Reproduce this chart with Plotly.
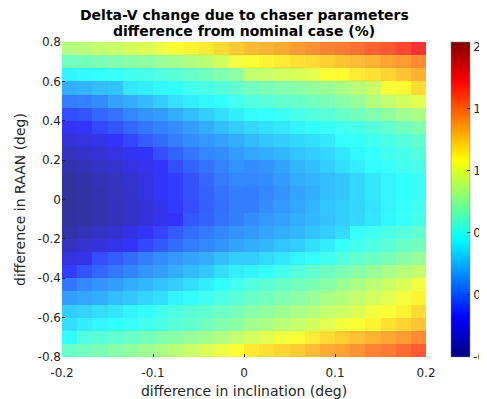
import plotly.graph_objects as go

# grid edges (pcolor-like): 24 x 24 cells
n_x = 24
n_y = 24
x_min, x_max = -0.2, 0.2
y_min, y_max = -0.8, 0.8

# cell values (%), rows listed from top (RAAN +0.8) to bottom (RAAN -0.8),
# columns from inclination -0.2 to +0.2
row00 = [0.85, 0.87, 0.9, 0.92, 0.95, 0.98, 1.02, 1.08, 1.12, 1.15, 1.2, 1.25, 1.3, 1.32, 1.35, 1.4, 1.43, 1.47, 1.5, 1.53, 1.57, 1.6, 1.65, 1.75]
row01 = [0.65, 0.66, 0.68, 0.7, 0.72, 0.74, 0.77, 0.8, 0.84, 0.88, 0.95, 1.05, 1.08, 1.12, 1.15, 1.18, 1.2, 1.23, 1.27, 1.3, 1.33, 1.37, 1.4, 1.45]
row02 = [0.42, 0.44, 0.46, 0.47, 0.5, 0.52, 0.55, 0.58, 0.62, 0.66, 0.7, 0.74, 0.9, 0.92, 0.95, 0.97, 1.0, 1.08, 1.1, 1.15, 1.18, 1.22, 1.27, 1.33]
row03 = [0.2, 0.22, 0.25, 0.27, 0.38, 0.4, 0.43, 0.45, 0.5, 0.53, 0.56, 0.6, 0.65, 0.68, 0.7, 0.72, 0.75, 0.78, 0.82, 0.87, 0.93, 1.08, 1.1, 1.2]
row04 = [0.05, 0.07, 0.1, 0.17, 0.2, 0.24, 0.3, 0.36, 0.4, 0.43, 0.46, 0.5, 0.55, 0.57, 0.6, 0.62, 0.65, 0.68, 0.72, 0.76, 0.85, 0.9, 0.95, 1.0]
row05 = [-0.1, -0.08, -0.02, 0.02, 0.08, 0.12, 0.15, 0.2, 0.25, 0.3, 0.35, 0.4, 0.44, 0.46, 0.48, 0.52, 0.55, 0.58, 0.62, 0.66, 0.7, 0.75, 0.8, 0.83]
row06 = [-0.22, -0.2, -0.12, -0.08, -0.02, 0.03, 0.07, 0.1, 0.15, 0.2, 0.25, 0.3, 0.33, 0.36, 0.38, 0.42, 0.45, 0.47, 0.5, 0.52, 0.56, 0.6, 0.65, 0.7]
row07 = [-0.3, -0.28, -0.25, -0.2, -0.12, -0.05, 0.0, 0.05, 0.1, 0.13, 0.16, 0.2, 0.24, 0.28, 0.3, 0.33, 0.35, 0.38, 0.45, 0.46, 0.5, 0.53, 0.56, 0.6]
row08 = [-0.38, -0.35, -0.32, -0.27, -0.22, -0.18, -0.1, -0.03, 0.03, 0.08, 0.1, 0.15, 0.18, 0.2, 0.23, 0.27, 0.3, 0.33, 0.38, 0.43, 0.46, 0.5, 0.52, 0.56]
row09 = [-0.43, -0.4, -0.37, -0.33, -0.28, -0.24, -0.18, -0.1, -0.03, 0.02, 0.07, 0.12, 0.1, 0.12, 0.16, 0.22, 0.25, 0.3, 0.35, 0.4, 0.44, 0.47, 0.5, 0.52]
row10 = [-0.48, -0.45, -0.42, -0.38, -0.33, -0.28, -0.2, -0.15, -0.08, -0.02, 0.04, 0.08, 0.08, 0.1, 0.14, 0.2, 0.22, 0.25, 0.28, 0.33, 0.38, 0.42, 0.45, 0.48]
row11 = [-0.49, -0.46, -0.43, -0.39, -0.34, -0.28, -0.2, -0.15, -0.08, -0.03, 0.02, 0.06, 0.05, 0.08, 0.12, 0.17, 0.2, 0.25, 0.28, 0.33, 0.38, 0.42, 0.45, 0.48]
row12 = [-0.49, -0.47, -0.43, -0.4, -0.36, -0.31, -0.24, -0.16, -0.1, -0.04, 0.01, 0.05, 0.05, 0.1, 0.14, 0.18, 0.22, 0.28, 0.3, 0.33, 0.37, 0.42, 0.46, 0.5]
row13 = [-0.48, -0.46, -0.43, -0.4, -0.36, -0.3, -0.24, -0.2, -0.07, -0.03, 0.02, 0.06, 0.1, 0.13, 0.16, 0.2, 0.23, 0.27, 0.3, 0.33, 0.38, 0.43, 0.47, 0.52]
row14 = [-0.45, -0.4, -0.37, -0.33, -0.27, -0.2, -0.13, -0.06, 0.0, 0.04, 0.08, 0.12, 0.14, 0.17, 0.2, 0.23, 0.27, 0.3, 0.34, 0.47, 0.5, 0.53, 0.56, 0.6]
row15 = [-0.38, -0.33, -0.29, -0.24, -0.2, -0.12, -0.06, 0.0, 0.05, 0.08, 0.12, 0.17, 0.2, 0.23, 0.27, 0.3, 0.35, 0.4, 0.47, 0.5, 0.54, 0.58, 0.62, 0.66]
row16 = [-0.28, -0.25, -0.1, -0.05, 0.0, 0.05, 0.1, 0.13, 0.17, 0.2, 0.25, 0.3, 0.3, 0.34, 0.38, 0.42, 0.46, 0.5, 0.55, 0.6, 0.63, 0.67, 0.72, 0.77]
row17 = [-0.15, -0.08, -0.02, 0.03, 0.07, 0.12, 0.15, 0.2, 0.24, 0.28, 0.35, 0.4, 0.42, 0.46, 0.5, 0.55, 0.6, 0.64, 0.68, 0.72, 0.77, 0.82, 0.86, 0.9]
row18 = [0.03, 0.08, 0.12, 0.15, 0.2, 0.23, 0.27, 0.3, 0.35, 0.4, 0.45, 0.5, 0.55, 0.58, 0.62, 0.65, 0.68, 0.72, 0.78, 0.83, 0.88, 0.93, 0.97, 1.05]
row19 = [0.15, 0.18, 0.2, 0.25, 0.28, 0.32, 0.35, 0.42, 0.46, 0.5, 0.54, 0.58, 0.62, 0.65, 0.7, 0.73, 0.77, 0.82, 0.86, 0.9, 0.95, 1.0, 1.05, 1.12]
row20 = [0.3, 0.32, 0.35, 0.38, 0.42, 0.46, 0.5, 0.54, 0.58, 0.6, 0.63, 0.67, 0.72, 0.75, 0.78, 0.82, 0.85, 0.9, 0.93, 0.98, 1.05, 1.08, 1.12, 1.2]
row21 = [0.35, 0.4, 0.43, 0.45, 0.47, 0.5, 0.53, 0.57, 0.6, 0.65, 0.7, 0.73, 0.8, 0.83, 0.87, 0.9, 0.95, 1.0, 1.05, 1.08, 1.12, 1.18, 1.22, 1.27]
row22 = [0.45, 0.55, 0.58, 0.6, 0.63, 0.66, 0.7, 0.73, 0.77, 0.8, 0.85, 0.9, 0.95, 1.0, 1.05, 1.08, 1.15, 1.2, 1.24, 1.28, 1.32, 1.36, 1.4, 1.45]
row23 = [0.62, 0.65, 0.68, 0.72, 0.75, 0.78, 0.82, 0.87, 0.92, 0.97, 1.03, 1.08, 1.15, 1.18, 1.22, 1.25, 1.3, 1.35, 1.38, 1.42, 1.47, 1.5, 1.55, 1.6]

rows_top_to_bottom = [row00, row01, row02, row03, row04, row05, row06, row07,
                      row08, row09, row10, row11, row12, row13, row14, row15,
                      row16, row17, row18, row19, row20, row21, row22, row23]

x_ticks = [-0.2, -0.1, 0, 0.1, 0.2]
x_ticktext = ["-0.2", "-0.1", "0", "0.1", "0.2"]
y_ticks = [-0.8, -0.6, -0.4, -0.2, 0, 0.2, 0.4, 0.6, 0.8]
y_ticktext = ["-0.8", "-0.6", "-0.4", "-0.2", "0", "0.2", "0.4", "0.6", "0.8"]
c_ticks = [-0.5, 0, 0.5, 1, 1.5, 2]
c_ticktext = ["-0.5", "0", "0.5", "1", "1.5", "2"]
c_min, c_max = -0.5, 2.04

title_line1 = "Delta-V change due to chaser parameters"
title_line2 = "difference from nominal case (%)"

# cell centres derived from the grid edges
dx = (x_max - x_min) / n_x
dy = (y_max - y_min) / n_y
x_centres = [x_min + (i + 0.5) * dx for i in range(n_x)]
y_centres = [y_max - (j + 0.5) * dy for j in range(n_y)]  # top to bottom

jet = [
    [0.0, "rgb(0,0,128)"],
    [0.125, "rgb(0,0,255)"],
    [0.375, "rgb(0,255,255)"],
    [0.625, "rgb(255,255,0)"],
    [0.875, "rgb(255,0,0)"],
    [1.0, "rgb(128,0,0)"],
]

font_main = "DejaVu Sans, Arial, sans-serif"
# page body has an 8px default margin: figure sized/offset to compensate
OFF = 8
W, H = 487 - OFF, 399 - OFF
L, R, T, B = 62 - OFF, 426 - OFF, 42 - OFF, 357 - OFF
CB_LEFT = 451 - OFF

fig = go.Figure(
    go.Heatmap(
        x=x_centres,
        y=y_centres,
        z=rows_top_to_bottom,
        colorscale=jet,
        zmin=c_min,
        zmax=c_max,
        opacity=0.8,
        colorbar=dict(
            x=(CB_LEFT - L) / (R - L),
            xanchor="left",
            xpad=0,
            ypad=0,
            y=0.5,
            yanchor="middle",
            len=1,
            lenmode="fraction",
            thickness=19,
            thicknessmode="pixels",
            outlinecolor="#808080",
            outlinewidth=0.5,
            tickvals=c_ticks,
            ticktext=c_ticktext,
            ticks="inside",
            ticklen=3,
            tickcolor="#262626",
            tickfont=dict(family=font_main, size=12, color="#262626"),
        ),
    )
)

fig.update_layout(
    width=W,
    height=H,
    margin=dict(l=L, r=W - R, t=T, b=H - B, autoexpand=False),
    paper_bgcolor="white",
    plot_bgcolor="white",
    font=dict(family=font_main, size=12, color="#262626"),
    xaxis=dict(
        range=[x_min, x_max],
        tickvals=x_ticks,
        ticktext=x_ticktext,
        ticks="inside",
        ticklen=3,
        tickcolor="#262626",
        ticklabelstandoff=7,
        showgrid=False,
        zeroline=False,
        showline=False,
        automargin=False,
        title=dict(text="difference in inclination (deg)", standoff=7,
                   font=dict(family=font_main, size=14, color="#262626")),
        tickfont=dict(family=font_main, size=12, color="#262626"),
    ),
    yaxis=dict(
        range=[y_min, y_max],
        tickvals=y_ticks,
        ticktext=y_ticktext,
        ticks="inside",
        ticklen=3,
        tickcolor="#262626",
        showgrid=False,
        zeroline=False,
        showline=False,
        automargin=False,
        title=dict(text="difference in RAAN (deg)", standoff=8,
                   font=dict(family=font_main, size=14, color="#262626")),
        tickfont=dict(family=font_main, size=12, color="#262626"),
    ),
    annotations=[
        dict(text="<b>" + title_line1 + "</b>", xref="paper", yref="paper",
             x=0.5, y=1 + (T - (15 - OFF)) / (B - T), xanchor="center", yanchor="middle",
             showarrow=False, font=dict(family=font_main, size=14, color="black")),
        dict(text="<b>" + title_line2 + "</b>", xref="paper", yref="paper",
             x=0.5, y=1 + (T - (31 - OFF)) / (B - T), xanchor="center", yanchor="middle",
             showarrow=False, font=dict(family=font_main, size=14, color="black")),
    ],
)

fig.write_html("out.html")
